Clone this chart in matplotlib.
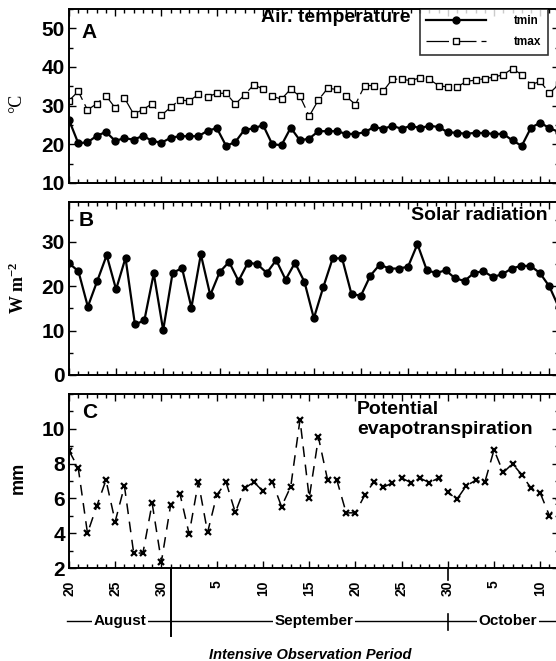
import numpy as np
import matplotlib
matplotlib.use('Agg')
import matplotlib.pyplot as plt
from matplotlib.ticker import MultipleLocator
import matplotlib.transforms as mtransforms
from matplotlib.lines import Line2D

# ---------------- data (day 0 = 20 August) ----------------
tmin = [26.3, 20.3, 20.5, 22.2, 23.2, 20.9, 21.6, 21.2, 22.2, 20.9,
        20.4, 21.7, 22.1, 22.1, 22.1, 23.5, 24.2, 19.6, 20.6, 23.8,
        24.1, 25.0, 20.0, 19.8, 24.3, 21.0, 21.5, 23.4, 23.4, 23.4,
        22.7, 22.7, 23.1, 24.5, 24.0, 24.8, 24.0, 24.8, 24.2, 24.8,
        24.5, 23.1, 23.0, 22.7, 23.0, 22.9, 22.7, 22.7, 21.0, 19.6,
        24.3, 25.6, 24.2, 23.2]
tmax = [31.3, 33.7, 28.9, 30.5, 32.6, 29.4, 32.0, 27.8, 29.0, 30.5,
        27.5, 29.6, 31.5, 31.2, 32.9, 32.3, 33.2, 33.2, 30.4, 32.8,
        35.4, 34.3, 32.4, 31.7, 34.3, 32.4, 27.3, 31.5, 34.5, 34.2,
        32.4, 30.3, 35.2, 35.2, 33.7, 36.9, 36.8, 36.5, 37.2, 36.8,
        35.2, 34.8, 34.8, 36.3, 36.6, 37.0, 37.4, 38.0, 39.6, 38.0,
        35.4, 36.3, 33.2, 35.5]
solar = [25.2, 23.4, 15.4, 21.2, 27.0, 19.3, 26.4, 11.4, 12.3, 22.9,
         10.1, 23.0, 24.1, 15.2, 27.2, 18.0, 23.2, 25.5, 21.2, 25.3,
         25.0, 23.0, 25.9, 21.5, 25.3, 21.0, 12.8, 19.8, 26.3, 26.3,
         18.2, 17.9, 22.4, 24.9, 24.0, 24.0, 24.4, 29.5, 23.6, 23.0,
         23.6, 21.8, 21.2, 23.0, 23.4, 22.1, 22.7, 24.0, 24.6, 24.6,
         23.0, 20.0, 15.3]
pet = [8.74, 7.75, 4.00, 5.55, 7.05, 4.67, 6.71, 2.86, 2.86, 5.72,
       2.36, 5.62, 6.28, 3.96, 6.93, 4.05, 6.20, 6.93, 5.19, 6.58,
       6.94, 6.41, 6.96, 5.53, 6.68, 10.52, 6.03, 9.50, 7.03, 7.03,
       5.17, 5.17, 6.18, 6.96, 6.64, 6.89, 7.17, 6.91, 7.16, 6.91,
       7.17, 6.34, 5.96, 6.73, 7.03, 6.92, 8.79, 7.49, 7.99, 7.36,
       6.59, 6.31, 5.00, 5.80]

tick_days = [0, 5, 10, 16, 21, 26, 31, 36, 41, 46, 51]
tick_labels = ['20', '25', '30', '5', '10', '15', '20', '25', '30', '5', '10']
months = ['August', 'September', 'October']
month_centers = [5.5, 26.5, 47.5]
month_ends = [11, 41]

# ---------------- style ----------------
plt.rcParams['font.family'] = ['Liberation Sans', 'DejaVu Sans']
plt.rcParams['font.weight'] = 'bold'
plt.rcParams['mathtext.fontset'] = 'custom'
plt.rcParams['mathtext.rm'] = 'Liberation Serif:bold'
plt.rcParams['mathtext.default'] = 'rm'

W, H = 556, 661
fig = plt.figure(figsize=(W / 100, H / 100), dpi=100)


def axpos(top, bottom, left=69, right=558.7):
    return [left / W, 1 - bottom / H, (right - left) / W, (bottom - top) / H]


axA = fig.add_axes(axpos(9, 183))
axB = fig.add_axes(axpos(202, 375))
axC = fig.add_axes(axpos(394, 568))

days = np.arange(len(tmin))
sdays = np.arange(len(solar))

axA.plot(days, tmin, color='k', lw=1.6, marker='o', ms=5, label='tmin')
axA.plot(days, tmax, color='k', lw=0.9, ls=(0, (18, 4)), marker='s', ms=4.5,
         mfc='white', mec='k', mew=1.0, label='tmax')
axB.plot(sdays, solar, color='k', lw=1.6, marker='o', ms=5)
axC.plot(days, pet, color='k', lw=1.1, ls=(0, (7, 5)), marker='x', ms=5, mew=1.6)

axA.set_xlim(0, 53)
axC.set_xlim(0, 53)
axB.set_xlim(0, 52)
axA.set_ylim(10, 55)
axB.set_ylim(0, 39)
axC.set_ylim(2, 12)
axA.set_yticks([10, 20, 30, 40, 50])
axA.yaxis.set_minor_locator(MultipleLocator(5))
axB.set_yticks([0, 10, 20, 30])
axB.yaxis.set_minor_locator(MultipleLocator(5))
axC.set_yticks([2, 4, 6, 8, 10])
axC.yaxis.set_minor_locator(MultipleLocator(1))

for ax in (axA, axB, axC):
    for s in ax.spines.values():
        s.set_linewidth(1.4)
    ax.xaxis.set_minor_locator(MultipleLocator(1))
    ax.set_xticks(tick_days)
    ax.tick_params(which='both', direction='in', top=True, right=True, width=1.0)
    ax.tick_params(which='major', length=5)
    ax.tick_params(which='minor', length=3)
    ax.tick_params(axis='y', labelsize=15, pad=3)
    for lab in ax.get_yticklabels():
        lab.set_fontweight('bold')

axA.set_xticklabels([])
axB.set_xticklabels([])
axC.set_xticklabels(tick_labels, rotation=90, fontsize=10, fontweight='bold')
axC.tick_params(axis='x', pad=9)

# legend
leg = axA.legend(loc='upper left', bbox_to_anchor=(420 / W, 1 - 9 / H),
                 bbox_transform=fig.transFigure, fontsize=8.5, frameon=True,
                 fancybox=False, handlelength=5.0, handletextpad=2.4,
                 borderpad=0.55, labelspacing=0.75, borderaxespad=0)
leg.get_frame().set_edgecolor('k')
leg.get_frame().set_linewidth(1.2)
for t in leg.get_texts():
    t.set_fontweight('bold')


def ftext(x, y, s, **kw):
    return fig.text(x / W, 1 - y / H, s, **kw)


# panel letters and titles
ftext(89, 33, 'A', fontsize=15, fontweight='bold', ha='center', va='center')
ftext(336, 17, 'Air. temperature', fontsize=14, fontweight='bold', ha='center', va='center')
ftext(86, 221, 'B', fontsize=15, fontweight='bold', ha='center', va='center')
ftext(548, 215, 'Solar radiation', fontsize=14, fontweight='bold', ha='right', va='center')
ftext(90, 413, 'C', fontsize=15, fontweight='bold', ha='center', va='center')
ftext(357, 409, 'Potential', fontsize=14, fontweight='bold', ha='left', va='center')
ftext(357, 430, 'evapotranspiration', fontsize=14, fontweight='bold', ha='left', va='center')

# y labels
ftext(17, 103, '\u00b0C', fontsize=13, family='Liberation Serif', fontweight='normal',
      rotation=90, ha='center', va='center')
ftext(18, 288, 'W m$^{-2}$', fontsize=13, family='Liberation Serif', fontweight='bold',
      rotation=90, ha='center', va='center')
ftext(18, 478, 'mm', fontsize=13, fontweight='bold', rotation=90, ha='center', va='center')

# month bar under panel C
trans = mtransforms.blended_transform_factory(axC.transData, fig.transFigure)
ym = 1 - 621 / H
fig.add_artist(Line2D([-0.2, 56], [ym, ym], transform=trans, color='k', lw=1.0))
for name, c in zip(months, month_centers):
    fig.text(c, ym, name, transform=trans, ha='center', va='center', fontsize=11,
             fontweight='bold', bbox=dict(facecolor='white', edgecolor='none', pad=1.2))
fig.add_artist(Line2D([month_ends[0], month_ends[0]], [1 - 568 / H, 1 - 636 / H],
                      transform=trans, color='k', lw=1.4))
fig.add_artist(Line2D([month_ends[1], month_ends[1]], [1 - 568 / H, 1 - 580 / H],
                      transform=trans, color='k', lw=1.2))
fig.add_artist(Line2D([month_ends[1], month_ends[1]], [1 - 614 / H, 1 - 630 / H],
                      transform=trans, color='k', lw=1.2))

ftext(310, 655, 'Intensive Observation Period', fontsize=10.5, fontweight='bold',
      style='italic', ha='center', va='center')

fig.savefig('out.png', dpi=100)
